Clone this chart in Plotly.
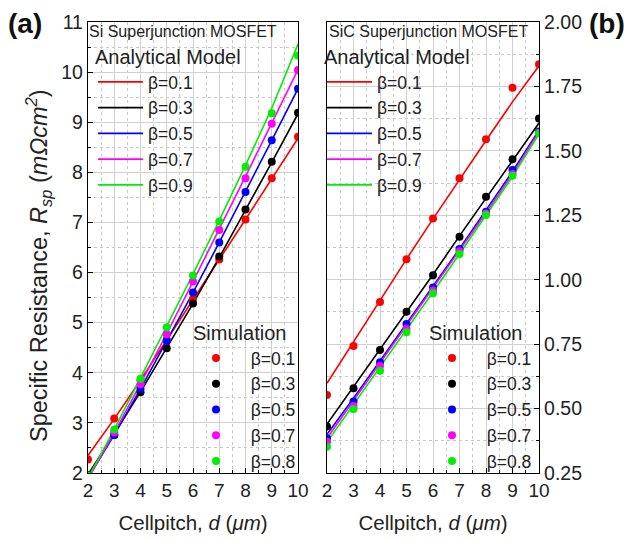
import plotly.graph_objects as go

# ---------------- data ----------------
cellpitch = [2, 3, 4, 5, 6, 7, 8, 9, 10]
betas_model = ["β=0.1", "β=0.3", "β=0.5", "β=0.7", "β=0.9"]
betas_sim = ["β=0.1", "β=0.3", "β=0.5", "β=0.7", "β=0.8"]
colors = ["#ff0000", "#000000", "#0000ff", "#ff00ff", "#00ee00"]

# Si superjunction MOSFET - analytical model (lines)
si_model_b01 = [2.35, 3.08, 3.85, 4.66, 5.47, 6.26, 7.06, 7.88, 8.68]
si_model_b03 = [1.97, 2.78, 3.62, 4.49, 5.38, 6.30, 7.24, 8.20, 9.17]
si_model_b05 = [1.90, 2.76, 3.68, 4.64, 5.60, 6.60, 7.61, 8.64, 9.67]
si_model_b07 = [1.88, 2.80, 3.78, 4.78, 5.82, 6.86, 7.92, 8.98, 10.05]
si_model_b09 = [1.90, 2.87, 3.90, 4.93, 5.97, 7.04, 8.14, 9.28, 10.56]
# Si superjunction MOSFET - simulation (markers)
si_sim_b01 = [2.27, 3.09, 3.85, 4.66, 5.47, 6.26, 7.06, 7.88, 8.71]
si_sim_b03 = [1.96, 2.76, 3.61, 4.49, 5.38, 6.32, 7.26, 8.21, 9.19]
si_sim_b05 = [1.90, 2.76, 3.68, 4.64, 5.60, 6.60, 7.61, 8.64, 9.67]
si_sim_b07 = [1.90, 2.81, 3.77, 4.77, 5.82, 6.85, 7.88, 8.97, 10.04]
si_sim_b08 = [1.95, 2.87, 3.88, 4.91, 5.94, 7.02, 8.11, 9.18, 10.33]

# SiC superjunction MOSFET - analytical model (lines)
sic_model_b01 = [0.598, 0.760, 0.920, 1.080, 1.236, 1.390, 1.540, 1.690, 1.830]
sic_model_b03 = [0.440, 0.585, 0.730, 0.875, 1.020, 1.170, 1.315, 1.460, 1.608]
sic_model_b05 = [0.400, 0.540, 0.685, 0.830, 0.975, 1.120, 1.270, 1.420, 1.580]
sic_model_b07 = [0.385, 0.530, 0.675, 0.820, 0.965, 1.110, 1.260, 1.410, 1.575]
sic_model_b09 = [0.370, 0.515, 0.660, 0.805, 0.952, 1.100, 1.250, 1.400, 1.565]
# SiC superjunction MOSFET - simulation (markers)
sic_sim_b01 = [0.553, 0.743, 0.914, 1.079, 1.238, 1.394, 1.545, 1.745, 1.836]
sic_sim_b03 = [0.430, 0.579, 0.727, 0.876, 1.017, 1.167, 1.322, 1.467, 1.626]
sic_sim_b05 = [0.385, 0.527, 0.680, 0.828, 0.970, 1.119, 1.264, 1.426, 1.575]
sic_sim_b07 = [0.371, 0.510, 0.665, 0.810, 0.958, 1.110, 1.257, 1.410, 1.570]
sic_sim_b08 = [0.352, 0.498, 0.647, 0.796, 0.947, 1.100, 1.251, 1.403, 1.568]

si_model = [si_model_b01, si_model_b03, si_model_b05, si_model_b07, si_model_b09]
si_sim = [si_sim_b01, si_sim_b03, si_sim_b05, si_sim_b07, si_sim_b08]
sic_model = [sic_model_b01, sic_model_b03, sic_model_b05, sic_model_b07, sic_model_b09]
sic_sim = [sic_sim_b01, sic_sim_b03, sic_sim_b05, sic_sim_b07, sic_sim_b08]

FONT = "Arial, Liberation Sans, sans-serif"
W, H = 631, 540
GAP = "\u00a0\u00a0"  # extra gap between simulation marker and its label

def px(x):
    return x / W

def py(y):
    return (H - y) / H

fig = go.Figure()

for i in range(5):
    fig.add_trace(go.Scatter(x=cellpitch, y=si_model[i], mode="lines",
                             line=dict(color=colors[i], width=1.6),
                             name=betas_model[i], legend="legend",
                             xaxis="x", yaxis="y"))
for i in range(5):
    fig.add_trace(go.Scatter(x=cellpitch, y=si_sim[i], mode="markers",
                             marker=dict(color=colors[i], size=8),
                             name=GAP + betas_sim[i], legend="legend2",
                             xaxis="x", yaxis="y"))
for i in range(5):
    fig.add_trace(go.Scatter(x=cellpitch, y=sic_model[i], mode="lines",
                             line=dict(color=colors[i], width=1.6),
                             name=betas_model[i], legend="legend3",
                             xaxis="x2", yaxis="y2"))
for i in range(5):
    fig.add_trace(go.Scatter(x=cellpitch, y=sic_sim[i], mode="markers",
                             marker=dict(color=colors[i], size=8),
                             name=GAP + betas_sim[i], legend="legend4",
                             xaxis="x2", yaxis="y2"))

grid_major = "#d0d0d0"
grid_minor = "#c8c8c8"

def xaxis_cfg(domain, anchor):
    return dict(domain=domain, anchor=anchor, range=[2, 10], dtick=1, tick0=2,
                automargin=False,
                showline=True, linecolor="black", linewidth=1.3, mirror=True,
                ticks="inside", ticklen=5, tickcolor="black",
                showgrid=True, gridcolor=grid_major, gridwidth=1.2,
                minor=dict(dtick=0.5, showgrid=True, gridcolor=grid_minor,
                           griddash="dot", ticks="inside", ticklen=3, tickcolor="black"),
                tickfont=dict(size=19, color="#222", family=FONT),
                title=dict(text="Cellpitch, <i>d</i> (<i>μm</i>)",
                           font=dict(size=20.5, color="#222", family=FONT), standoff=15),
                zeroline=False)

y_dom = [py(473), py(22)]
fig.update_layout(
    width=W, height=H,
    margin=dict(l=0, r=0, t=0, b=0, autoexpand=False),
    paper_bgcolor="white", plot_bgcolor="white",
    font=dict(family=FONT, color="#222"),
    xaxis=xaxis_cfg([px(88), px(298)], "y"),
    xaxis2=xaxis_cfg([px(327), px(539)], "y2"),
    yaxis=dict(domain=y_dom, anchor="x", range=[2, 11], dtick=1, tick0=2,
               automargin=False,
               showline=True, linecolor="black", linewidth=1.3, mirror=True,
               ticks="inside", ticklen=5, tickcolor="black",
               showgrid=True, gridcolor=grid_major, gridwidth=1.2,
               minor=dict(dtick=0.5, showgrid=True, gridcolor=grid_minor,
                          griddash="dot", ticks="inside", ticklen=3, tickcolor="black"),
               tickfont=dict(size=19.5, color="#222", family=FONT),
               zeroline=False),
    yaxis2=dict(domain=y_dom, anchor="x2", side="right", range=[0.25, 2.0],
                dtick=0.25, tick0=0.25, tickformat=".2f",
                automargin=False,
                showline=True, linecolor="black", linewidth=1.3, mirror=True,
                ticks="inside", ticklen=5, tickcolor="black",
                showgrid=True, gridcolor=grid_major, gridwidth=1.2,
                minor=dict(dtick=0.125, showgrid=True, gridcolor=grid_minor,
                           griddash="dot", ticks="inside", ticklen=3, tickcolor="black"),
                tickfont=dict(size=19.5, color="#222", family=FONT),
                zeroline=False),
    showlegend=True,
)

def legend_cfg(x, y, title, iw):
    return dict(x=px(x), y=py(y), xanchor="left", yanchor="top", xref="paper", yref="paper",
                bgcolor="rgba(0,0,0,0)", borderwidth=0,
                font=dict(size=17.5, color="#222", family=FONT),
                title=dict(text=title, font=dict(size=20, color="#222", family=FONT)),
                tracegroupgap=0, itemwidth=iw)

fig.update_layout(
    legend=legend_cfg(93, 38, "Analytical Model", 45),
    legend2=legend_cfg(191, 314, "Simulation", 40),
    legend3=legend_cfg(322, 38, "Analytical Model", 45),
    legend4=legend_cfg(427, 314, "Simulation", 40),
)

ann = [
    dict(text="Specific Resistance, <i>R</i><sub><i>sp</i></sub> (<i>mΩcm<sup>2</sup></i>)",
         x=px(38), y=py(266), xanchor="center", yanchor="middle", textangle=-90,
         font=dict(size=23.5, color="#222", family=FONT)),
    dict(text="Si Superjunction MOSFET", x=px(87), y=py(32), xanchor="left", yanchor="middle",
         font=dict(size=16, color="#222", family=FONT)),
    dict(text="SiC Superjunction MOSFET", x=px(327), y=py(32), xanchor="left", yanchor="middle",
         font=dict(size=16, color="#222", family=FONT)),
    dict(text="<b>(a)</b>", x=px(25), y=py(23), xanchor="center", yanchor="middle",
         font=dict(size=28, color="#111", family=FONT)),
    dict(text="<b>(b)</b>", x=px(607), y=py(24), xanchor="center", yanchor="middle",
         font=dict(size=28, color="#111", family=FONT)),
]
for a in ann:
    a.update(xref="paper", yref="paper", showarrow=False)
fig.update_layout(annotations=ann)

fig.write_html("out.html", config={"displayModeBar": False},
               post_script="document.body.style.margin='0px';document.body.style.padding='0px';")
